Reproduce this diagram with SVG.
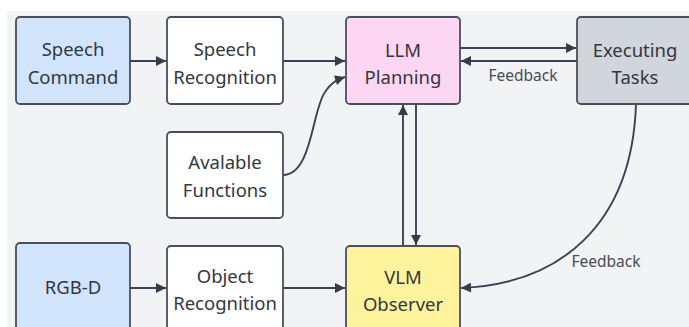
<svg xmlns="http://www.w3.org/2000/svg" width="689" height="327" viewBox="0 0 689 327">
<defs>
<marker id="ah" viewBox="0 0 10 10" refX="10" refY="5" markerWidth="11" markerHeight="10" markerUnits="userSpaceOnUse" orient="auto">
<path d="M0,0 L10,5 L0,10 z" fill="#363d49"/>
</marker>
<style>
.n rect{stroke:#484f5c;stroke-width:1.8}
.t{font-family:"Noto Sans","Open Sans",sans-serif;font-size:18.5px;fill:#33373f;text-anchor:middle}
.l{font-family:"Noto Sans","Open Sans",sans-serif;font-size:15.5px;fill:#474c55;text-anchor:middle}
.c{fill:none;stroke:#3b4350;stroke-width:1.9;marker-end:url(#ah)}
.w{fill:#ffffff}
</style>
</defs>
<rect x="0" y="0" width="689" height="327" fill="#ffffff"/>
<rect x="7" y="11" width="682" height="316" fill="#f2f3f5"/>
<g id="connectors">
<line class="c" x1="130" y1="61" x2="166" y2="61"/>
<line class="c" x1="283" y1="61" x2="345" y2="61"/>
<path class="c" d="M283,175 C312,175 312,110 325,92 C331,83 336,80 345,77"/>
<line class="c" x1="460" y1="48" x2="576" y2="48"/>
<line class="c" x1="577" y1="61" x2="461" y2="61"/>
<line class="c" x1="403" y1="246" x2="403" y2="105"/>
<line class="c" x1="416" y1="104" x2="416" y2="245"/>
<path class="c" d="M636,104 C632,225 560,284 461,288"/>
<line class="c" x1="130" y1="288" x2="166" y2="288"/>
<line class="c" x1="283" y1="288" x2="345" y2="288"/>
<text class="l" x="523" y="81">Feedback</text>
<text class="l" x="606" y="267">Feedback</text>
</g>
<g id="speech-command" class="n">
<rect x="16" y="17" width="114" height="87" rx="4" fill="#d2e4fb"/>
<text class="t" x="73" y="56">Speech</text>
<text class="t" x="73" y="84">Command</text>
</g>
<g id="speech-recognition" class="n">
<rect x="167" y="17" width="116" height="87" rx="4" class="w"/>
<text class="t" x="225" y="56">Speech</text>
<text class="t" x="225" y="84">Recognition</text>
</g>
<g id="llm-planning" class="n">
<rect x="346" y="17" width="114" height="87" rx="4" fill="#fdd6f4"/>
<text class="t" x="403" y="57">LLM</text>
<text class="t" x="403" y="84">Planning</text>
</g>
<g id="executing-tasks" class="n">
<rect x="577" y="17" width="118" height="87" rx="4" fill="#d1d5dc"/>
<text class="t" x="635" y="57">Executing</text>
<text class="t" x="635" y="84">Tasks</text>
</g>
<g id="available-functions" class="n">
<rect x="167" y="132" width="116" height="86" rx="4" class="w"/>
<text class="t" x="225" y="169">Avalable</text>
<text class="t" x="225" y="197">Functions</text>
</g>
<g id="rgb-d" class="n">
<rect x="16" y="243" width="114" height="90" rx="4" fill="#d2e4fb"/>
<text class="t" x="73" y="294">RGB-D</text>
</g>
<g id="object-recognition" class="n">
<rect x="167" y="246" width="116" height="90" rx="4" class="w"/>
<text class="t" x="225" y="283">Object</text>
<text class="t" x="225" y="310">Recognition</text>
</g>
<g id="vlm-observer" class="n">
<rect x="346" y="246" width="114" height="90" rx="4" fill="#fdf39d"/>
<text class="t" x="403" y="284">VLM</text>
<text class="t" x="403" y="311">Observer</text>
</g>
</svg>
